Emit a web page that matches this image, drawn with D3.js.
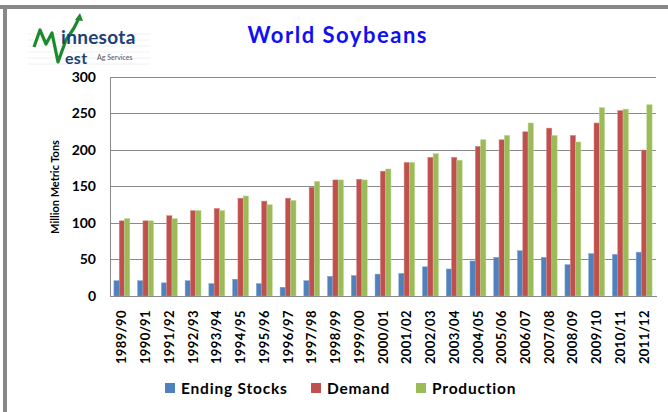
<!DOCTYPE html>
<html><head><meta charset="utf-8">
<script src="https://cdn.jsdelivr.net/npm/d3@7"></script>
<style>
html,body{margin:0;padding:0;background:#fff;}
svg{display:block;font-family:Lato,"Open Sans",sans-serif;}
</style></head>
<body>
<svg id="chart" width="668" height="412"></svg>
<script>
const categories = ["1989/90","1990/91","1991/92","1992/93","1993/94","1994/95","1995/96","1996/97","1997/98","1998/99","1999/00","2000/01","2001/02","2002/03","2003/04","2004/05","2005/06","2006/07","2007/08","2008/09","2009/10","2010/11","2011/12"];
const endingStocks = [21,21,18,21,17,23,17,12,21,27,28,30,31,40,37,48,53,62,53,43,58,57,60];
const demand = [103,103,110,117,120,134,130,134,149,159,160,171,183,190,190,205,214,225,230,220,237,254,200];
const production = [106,103,106,117,117,137,125,131,157,159,159,174,183,195,186,214,220,237,220,211,258,256,262];
const seriesNames = ["Ending Stocks","Demand","Production"];
const seriesColors = ["#4F81BD","#C0504D","#9BBB59"];
const seriesEdge = ["#7fa3d3","#d88a88","#bcd68f"];
const yTicks = [0,50,100,150,200,250,300];

const svg = d3.select("#chart");
const L = 110, R = 656, T = 77, B = 296;

// frame
svg.append("rect").attr("x",0).attr("y",5).attr("width",668).attr("height",4).attr("fill","#888");
svg.append("rect").attr("x",3).attr("y",5).attr("width",4).attr("height",407).attr("fill","#888");

const x0 = d3.scaleBand().domain(categories).range([L,R]).paddingInner(0.33).paddingOuter(0.165);
const x1 = d3.scaleBand().domain(seriesNames).range([0,x0.bandwidth()]);
const y = d3.scaleLinear().domain([0,300]).range([B,T]);

// gridlines
svg.append("g").selectAll("line").data(yTicks.filter(d=>d>0)).join("line")
  .attr("x1",L).attr("x2",R).attr("y1",d=>y(d)).attr("y2",d=>y(d))
  .attr("stroke","#8a8a8a").attr("stroke-width",1).attr("shape-rendering","crispEdges");

// y axis
const yAxis = svg.append("g").attr("transform",`translate(${L},0)`)
  .call(d3.axisLeft(y).tickValues(yTicks).tickSize(0).tickPadding(14));
yAxis.select(".domain").attr("stroke","#8a8a8a").attr("shape-rendering","crispEdges");
yAxis.selectAll("text").attr("font-family","Lato, sans-serif").attr("font-weight","bold").attr("font-size",14).attr("fill","#000");

// bars
const rows = categories.map((c,i)=>({cat:c, vals:[endingStocks[i],demand[i],production[i]]}));
const g = svg.append("g").selectAll("g").data(rows).join("g")
  .attr("transform",d=>`translate(${x0(d.cat)},0)`);
g.selectAll("rect").data(d=>d.vals.map((v,k)=>({v,k}))).join("rect")
  .attr("x",d=>x1(seriesNames[d.k])).attr("width",x1.bandwidth())
  .attr("y",d=>y(d.v)).attr("height",d=>B-y(d.v))
  .attr("fill",d=>seriesColors[d.k])
  .attr("stroke",d=>seriesEdge[d.k]).attr("stroke-width",0.5);

// x axis
const xAxis = svg.append("g").attr("transform",`translate(0,${B})`)
  .call(d3.axisBottom(x0).tickSize(0).tickPadding(0));
xAxis.select(".domain").attr("stroke","#8a8a8a").attr("shape-rendering","crispEdges");
xAxis.selectAll("text")
  .attr("font-family","Lato, sans-serif").attr("font-weight","bold").attr("font-size",13).attr("fill","#000")
  .attr("letter-spacing",0.4)
  .attr("transform","rotate(-90)").attr("text-anchor","end")
  .attr("x",-14).attr("y",0).attr("dy","0.35em");

// y label
svg.append("text").attr("transform","translate(59,187) rotate(-90)")
  .attr("text-anchor","middle").attr("font-weight","bold").attr("font-size",11).text("Million Metric Tons");

// title
svg.append("text").attr("x",337).attr("y",43).attr("text-anchor","middle")
  .attr("font-weight","bold").attr("font-size",22).attr("fill","#1010f0")
  .attr("textLength",179).attr("lengthAdjust","spacing").text("World Soybeans");

// legend
const legX = [165,311,416];
const lg = svg.append("g").selectAll("g").data(seriesNames).join("g")
  .attr("transform",(d,i)=>`translate(${legX[i]},383)`);
lg.append("rect").attr("width",10).attr("height",10).attr("fill",(d,i)=>seriesColors[i]);
lg.append("text").attr("x",16).attr("y",11).attr("font-weight","bold").attr("font-size",15.5)
  .attr("letter-spacing",0.8).text(d=>d);

// logo
const logo = svg.append("g");
[34,40,46,52,58,64].forEach(v=>logo.append("line").attr("x1",28).attr("x2",150).attr("y1",v).attr("y2",v).attr("stroke","#f0f0f0"));
logo.append("path").attr("d","M34,47 L40,30 L46,44 L52,33 L58,62 L66,40 L74,28 L79,18")
  .attr("fill","none").attr("stroke","#1e8a2e").attr("stroke-width",3.2).attr("stroke-linejoin","round");
logo.append("path").attr("d","M75,20 L80,13 L83,21 Z").attr("fill","#1e8a2e");
logo.append("text").attr("x",61).attr("y",44).attr("font-family","Lato, sans-serif").attr("font-weight","bold")
  .attr("fill","#1d3f77").attr("font-size",19).attr("letter-spacing",0.3).text("innesota");
logo.append("text").attr("x",65).attr("y",64).attr("font-family","Lato, sans-serif").attr("font-weight","bold")
  .attr("fill","#1d3f77").attr("font-size",16).attr("letter-spacing",0.3).text("est");
logo.append("text").attr("x",97).attr("y",60).attr("font-size",7).attr("fill","#555").text("Ag Services");
</script>
</body></html>
